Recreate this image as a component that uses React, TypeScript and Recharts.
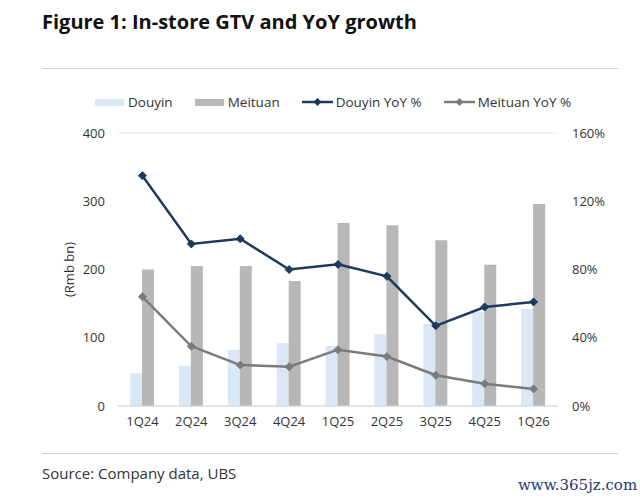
import React from 'react';
import {
  ComposedChart,
  Bar,
  Line,
  XAxis,
  YAxis,
  CartesianGrid,
} from 'recharts';

// quarters on the x axis
const quarters = ['1Q24', '2Q24', '3Q24', '4Q24', '1Q25', '2Q25', '3Q25', '4Q25', '1Q26'];

// in-store GTV, Rmb bn (left axis)
const douyinGtv = [48, 59, 82, 92, 88, 105, 120, 138, 142];
const meituanGtv = [200, 205, 205, 183, 268, 265, 243, 207, 296];

// YoY growth, % (right axis)
const douyinYoy = [135, 95, 98, 80, 83, 76, 47, 58, 61];
const meituanYoy = [64, 35, 24, 23, 33, 29, 18, 13, 10];

const leftTicks = [0, 100, 200, 300, 400];
const rightTicks = [0, 40, 80, 120, 160];

const data = quarters.map((q, i) => ({
  q,
  douyin: douyinGtv[i],
  meituan: meituanGtv[i],
  douyinYoy: douyinYoy[i],
  meituanYoy: meituanYoy[i],
}));

const FONT = '"Open Sans", "Noto Sans", sans-serif';
const C_DOUYIN = '#dae7f5';
const C_MEITUAN = '#b7b7b7';
const C_DOUYIN_YOY = '#1b3a5e';
const C_MEITUAN_YOY = '#7b7b7b';

const diamond = (color: string) => (props: any) => {
  const { cx, cy, index } = props;
  if (cx == null || cy == null) return <g key={index} />;
  const r = 4;
  return (
    <path
      key={index}
      d={`M${cx},${cy - r} L${cx + r},${cy} L${cx},${cy + r} L${cx - r},${cy} Z`}
      fill={color}
      stroke={color}
    />
  );
};

const LegendItem = ({ kind, color, text }: { kind: 'bar' | 'line'; color: string; text: string }) => (
  <span style={{ display: 'inline-flex', alignItems: 'center', marginRight: 22 }}>
    {kind === 'bar' ? (
      <span style={{ display: 'inline-block', width: 29, height: 7, background: color, marginRight: 4 }} />
    ) : (
      <svg width={31} height={10} style={{ marginRight: 3 }}>
        <line x1={0} y1={5} x2={31} y2={5} stroke={color} strokeWidth={2.5} />
        <path d="M15.5,1 L19.5,5 L15.5,9 L11.5,5 Z" fill={color} />
      </svg>
    )}
    <span>{text}</span>
  </span>
);

export default function App() {
  return (
    <div style={{ position: 'absolute', left: 0, top: 0, width: 640, height: 499, background: '#fff', fontFamily: FONT }}>
      <div style={{ position: 'absolute', left: 42, top: 8, fontSize: 20, fontWeight: 700, color: '#111', whiteSpace: 'nowrap' }}>
        Figure 1: In-store GTV and YoY growth
      </div>
      <div style={{ position: 'absolute', left: 42, top: 68, width: 576, height: 1, background: '#d0d0d0' }} />

      <div style={{ position: 'absolute', left: 95, top: 93, fontSize: 13.5, color: '#333', whiteSpace: 'nowrap', display: 'flex' }}>
        <LegendItem kind="bar" color={C_DOUYIN} text="Douyin" />
        <LegendItem kind="bar" color={C_MEITUAN} text="Meituan" />
        <LegendItem kind="line" color={C_DOUYIN_YOY} text="Douyin YoY %" />
        <LegendItem kind="line" color={C_MEITUAN_YOY} text="Meituan YoY %" />
      </div>

      <div style={{ position: 'absolute', left: 0, top: 0 }}>
        <ComposedChart
          width={640}
          height={440}
          data={data}
          margin={{ top: 133, right: 22, left: 58, bottom: 4 }}
          barGap={0}
          style={{ fontFamily: FONT }}
        >
          <CartesianGrid vertical={false} stroke="#e8e8e8" />
          <XAxis
            dataKey="q"
            height={30}
            axisLine={{ stroke: '#d6d6d6' }}
            tickLine={false}
            tickSize={0}
            tickMargin={11}
            tick={{ fill: '#333', fontSize: 13 }}
            interval={0}
          />
          <YAxis
            yAxisId="left"
            width={60}
            domain={[0, 400]}
            ticks={leftTicks}
            axisLine={false}
            tickLine={false}
            tickSize={0}
            tickMargin={13}
            tick={{ fill: '#333', fontSize: 13 }}
            label={{ value: '(Rmb bn)', angle: -90, position: 'center', dx: -19, fill: '#333', fontSize: 13 }}
          />
          <YAxis
            yAxisId="right"
            orientation="right"
            width={60}
            domain={[0, 160]}
            ticks={rightTicks}
            tickFormatter={(v: number) => `${v}%`}
            axisLine={false}
            tickLine={false}
            tickSize={0}
            tickMargin={14}
            tick={{ fill: '#333', fontSize: 13, textAnchor: 'start' }}
          />
          <Bar yAxisId="left" dataKey="douyin" name="Douyin" fill={C_DOUYIN} barSize={12} isAnimationActive={false} />
          <Bar yAxisId="left" dataKey="meituan" name="Meituan" fill={C_MEITUAN} barSize={12} isAnimationActive={false} />
          <Line
            yAxisId="right"
            dataKey="douyinYoy"
            name="Douyin YoY %"
            stroke={C_DOUYIN_YOY}
            strokeWidth={2.5}
            type="linear"
            dot={diamond(C_DOUYIN_YOY)}
            activeDot={false}
            isAnimationActive={false}
          />
          <Line
            yAxisId="right"
            dataKey="meituanYoy"
            name="Meituan YoY %"
            stroke={C_MEITUAN_YOY}
            strokeWidth={2.5}
            type="linear"
            dot={diamond(C_MEITUAN_YOY)}
            activeDot={false}
            isAnimationActive={false}
          />
        </ComposedChart>
      </div>

      <div style={{ position: 'absolute', left: 42, top: 453, width: 576, height: 1, background: '#d0d0d0' }} />
      <div style={{ position: 'absolute', left: 42, top: 463, fontSize: 15, color: '#333', whiteSpace: 'nowrap' }}>
        Source: Company data, UBS
      </div>
      <div style={{ position: 'absolute', left: 518, top: 476, fontSize: 15, color: '#1f3a6e', fontFamily: '"DejaVu Serif", serif', whiteSpace: 'nowrap' }}>
        www.365jz.com
      </div>
    </div>
  );
}
